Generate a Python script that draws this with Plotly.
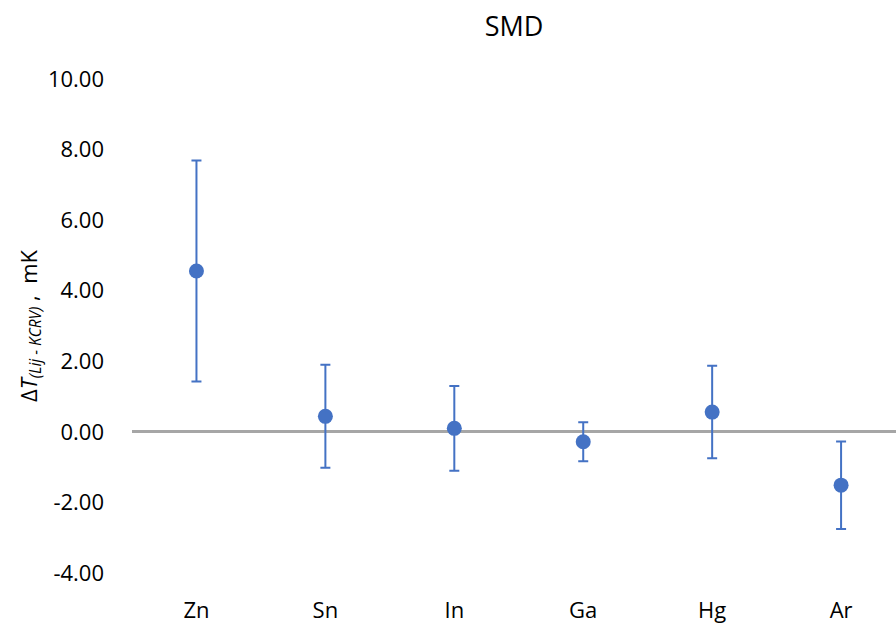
import plotly.graph_objects as go

categories = ["Zn", "Sn", "In", "Ga", "Hg", "Ar"]
values = [4.56, 0.44, 0.10, -0.28, 0.56, -1.51]
uncert = [3.13, 1.46, 1.20, 0.55, 1.31, 1.24]
y_ticks = [-4, -2, 0, 2, 4, 6, 8, 10]

fig = go.Figure()
fig.add_trace(go.Scatter(
    x=list(range(len(categories))), y=values, mode="markers",
    marker=dict(color="#4472C4", size=15),
    error_y=dict(type="data", array=uncert, visible=True,
                 color="#4472C4", thickness=2, width=5),
    showlegend=False,
))

fig.update_layout(
    width=896, height=624,
    paper_bgcolor="white", plot_bgcolor="white",
    margin=dict(l=132, r=0, t=79, b=51),
    font=dict(family="Open Sans, Liberation Sans, sans-serif", size=22, color="#000000"),
    title=dict(text="SMD", x=0.5, xanchor="center", xref="paper", y=1 - 27/624, yanchor="middle",
               font=dict(size=27, color="#000000")),
    xaxis=dict(
        range=[-0.5, 5.426], tickmode="array",
        tickvals=list(range(len(categories))), ticktext=categories,
        showgrid=False, zeroline=False, showline=False, ticks="",
        ticklabelstandoff=22, tickfont=dict(size=22),
    ),
    yaxis=dict(
        range=[-4, 10], tickmode="array", tickvals=y_ticks,
        ticktext=[f"{v:.2f}" for v in y_ticks],
        showgrid=False, showline=False, ticks="",
        zeroline=True, zerolinecolor="#A6A6A6", zerolinewidth=3,
        ticklabelstandoff=27, tickfont=dict(size=22),
        title=dict(text="Δ<i>T</i><sub><i>(Lij - KCRV)</i></sub> ,  mK",
                   font=dict(size=22), standoff=4),
    ),
)

fig.write_html("out.html", config={"displayModeBar": False},
               post_script="document.body.style.margin='0';document.body.style.overflow='hidden';")
